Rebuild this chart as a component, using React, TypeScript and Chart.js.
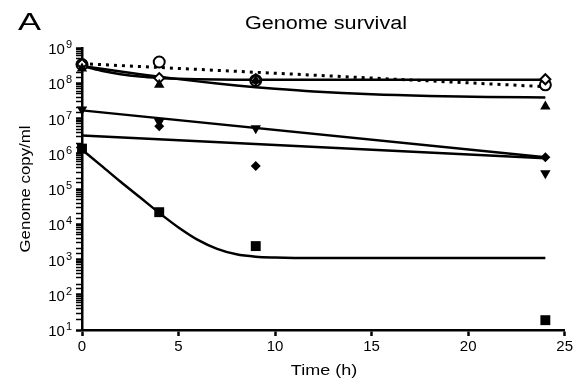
import React, { useEffect, useRef } from "react";
import { Chart, registerables } from "chart.js";

Chart.register(...registerables);

// Measured time points (h)
const timePoints = [0, 4, 9, 24];
// Measured genome copies per ml for each series
const openCircle = [3.4e8, 4.0e8, 1.2e8, 9.0e7];
const openDiamond = [3.5e8, 1.4e8, 1.3e8, 1.3e8];
const triangleUp = [2.6e8, 9.0e7, 1.2e8, 2.2e7];
const triangleDown = [1.8e7, 8.0e6, 5.3e6, 2.8e5];
const filledDiamond = [1.5e6, 6.0e6, 4.5e5, 8.0e5];
const square = [1.4e6, 2.2e4, 2.4e3, 19];

// Fitted curves
const fitTimes = [0, 1, 2, 3, 4, 5, 6, 7, 8, 9, 10, 12, 15, 18, 21, 24];
const squareFit = [1.3e6, 4.6e5, 1.6e5, 5.8e4, 2.1e4, 8.1e3, 3.6e3, 2.0e3, 1.4e3, 1.2e3, 1.14e3, 1.1e3, 1.1e3, 1.1e3, 1.1e3, 1.1e3];
const triangleFit = [3.08e8, 2.56e8, 2.14e8, 1.8e8, 1.53e8, 1.31e8, 1.13e8, 9.84e7, 8.67e7, 7.73e7, 6.98e7, 5.87e7, 4.89e7, 4.38e7, 4.1e7, 3.96e7];
const openDiamondFit = [3.1e8, 2.27e8, 1.81e8, 1.555e8, 1.42e8, 1.34e8, 1.3e8, 1.278e8, 1.265e8, 1.258e8, 1.255e8, 1.25e8, 1.25e8, 1.25e8, 1.25e8, 1.25e8];
const lineEnds = [0, 24];
const circleFit = [3.6e8, 8.0e7];
const triangleDownFit = [1.7e7, 8.0e5];
const filledDiamondFit = [3.3e6, 7.5e5];

const xTicks = [0, 5, 10, 15, 20, 25];
const yExponents = [1, 2, 3, 4, 5, 6, 7, 8, 9];

const toXY = (xs: number[], ys: number[]) => xs.map((x, i) => ({ x, y: ys[i] }));

const FONT = '"Liberation Sans", Arial, Helvetica, sans-serif';

function drawScaled(ctx: CanvasRenderingContext2D, text: string, x: number, y: number, size: number, sx: number, align: CanvasTextAlign, rot = 0) {
  ctx.save();
  ctx.translate(x, y);
  if (rot) ctx.rotate(rot);
  ctx.scale(sx, 1);
  ctx.font = `${size}px ${FONT}`;
  ctx.textAlign = align;
  ctx.textBaseline = "alphabetic";
  ctx.fillStyle = "#000";
  ctx.fillText(text, 0, 0);
  ctx.restore();
}

const textPlugin = {
  id: "texts",
  afterDraw(chart: any) {
    const ctx = chart.ctx as CanvasRenderingContext2D;
    drawScaled(ctx, "A", 18, 30, 23, 1.5, "left");
    drawScaled(ctx, "Genome survival", 326, 29, 18, 1.2, "center");
    drawScaled(ctx, "Time (h)", 324, 375, 15, 1.2, "center");
    drawScaled(ctx, "Genome copy/ml", 30, 189, 14, 1.2, "center", -Math.PI / 2);
    // y tick labels: 10 with superscript exponent
    const ys = chart.scales.y;
    const right = ys.right - 10;
    ctx.save();
    ctx.fillStyle = "#000";
    ctx.textBaseline = "middle";
    yExponents.forEach((e) => {
      const py = ys.getPixelForValue(Math.pow(10, e));
      const expText = String(e);
      ctx.font = `11px ${FONT}`;
      const ew = ctx.measureText(expText).width;
      ctx.font = `15px ${FONT}`;
      ctx.textAlign = "right";
      ctx.fillText("10", right - ew - 1, py + 2);
      ctx.font = `11px ${FONT}`;
      ctx.textAlign = "left";
      ctx.fillText(expText, right - ew, py - 3);
    });
    ctx.restore();
  },
};

export default function App() {
  const ref = useRef<HTMLCanvasElement | null>(null);
  useEffect(() => {
    if (!ref.current) return;
    const fitLine = (data: { x: number; y: number }[], extra: any = {}) => ({
      type: "line",
      data,
      showLine: true,
      borderColor: "#000",
      borderWidth: 2.5,
      pointRadius: 0,
      fill: false,
      cubicInterpolationMode: "monotone",
      clip: false,
      order: 2,
      ...extra,
    });
    const pts = (data: { x: number; y: number }[], style: any, bg: string, radius: number, extra: any = {}) => ({
      type: "scatter",
      data,
      showLine: false,
      pointStyle: style,
      pointRadius: radius,
      pointBackgroundColor: bg,
      pointBorderColor: "#000",
      pointBorderWidth: 2,
      clip: false,
      order: 1,
      ...extra,
    });
    const chart = new Chart(ref.current, {
      type: "scatter",
      data: {
        datasets: [
          fitLine(toXY(lineEnds, circleFit), { borderDash: [3, 5], borderWidth: 3, cubicInterpolationMode: "default" }),
          fitLine(toXY(fitTimes, openDiamondFit)),
          fitLine(toXY(fitTimes, triangleFit)),
          fitLine(toXY(lineEnds, triangleDownFit), { cubicInterpolationMode: "default" }),
          fitLine(toXY(lineEnds, filledDiamondFit), { cubicInterpolationMode: "default" }),
          fitLine(toXY(fitTimes, squareFit)),
          pts(toXY(timePoints, square), "rect", "#000", 7, { pointBorderWidth: 0 }),
          pts(toXY(timePoints, filledDiamond), "rectRot", "#000", 5, { pointBorderWidth: 0 }),
          pts(toXY(timePoints, triangleDown), "triangle", "#000", 6, { pointRotation: 180, pointBorderWidth: 0 }),
          pts(toXY(timePoints, triangleUp), "triangle", "#000", 6, { pointBorderWidth: 0 }),
          pts(toXY(timePoints, openDiamond), "rectRot", "#fff", 5),
          pts(toXY(timePoints, openCircle), "circle", "#fff", 5.5),
        ] as any,
      },
      options: {
        responsive: false,
        animation: false,
        devicePixelRatio: 1,
        layout: { padding: { top: 48, right: 7, left: 0, bottom: 0 } },
        plugins: { legend: { display: false }, title: { display: false }, tooltip: { enabled: false } },
        scales: {
          x: {
            type: "linear",
            min: 0,
            max: 25,
            afterFit: (s: any) => { s.height = 48; },
            afterBuildTicks: (s: any) => { s.ticks = xTicks.map((v) => ({ value: v })); },
            border: { display: true, color: "#000", width: 2.5 },
            grid: { drawOnChartArea: false, drawTicks: true, tickLength: 6, tickColor: "#000", tickWidth: 2.5 },
            ticks: { color: "#000", font: { family: FONT, size: 15 }, padding: 2, maxRotation: 0 },
          },
          y: {
            type: "logarithmic",
            min: 10,
            max: 1e9,
            afterFit: (s: any) => { s.width = 82; },
            border: { display: true, color: "#000", width: 2.5 },
            grid: {
              drawOnChartArea: false,
              drawTicks: true,
              tickLength: 6,
              tickColor: "#000",
              tickWidth: (c: any) => (c.tick && c.tick.major ? 2.5 : 1.5),
            },
            ticks: {
              autoSkip: false,
              color: "#000",
              font: { family: FONT, size: 14 },
              padding: 3,
              major: { enabled: true },
              callback: () => "",
            },
          },
        },
      } as any,
      plugins: [textPlugin],
    });
    return () => chart.destroy();
  }, []);
  return (
    <div style={{ position: "fixed", left: 0, top: 0, width: 575, height: 378, background: "#fff" }}>
      <canvas ref={ref} width={575} height={378} style={{ width: 575, height: 378, display: "block" }} />
    </div>
  );
}
